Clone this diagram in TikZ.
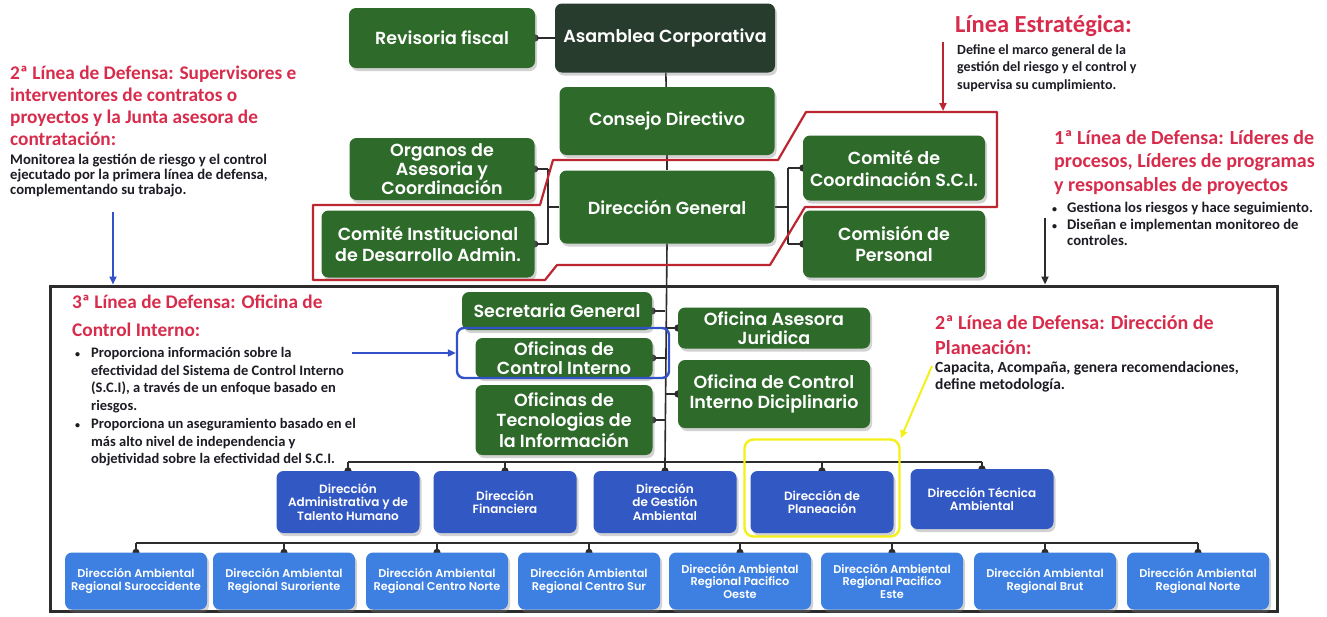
\documentclass[tikz,border=0pt]{standalone}
\usepackage{fontspec}
\setmainfont{Carlito}
\newfontfamily\cajafont{Poppins}[BoldFont={Poppins SemiBold}]
\usetikzlibrary{arrows.meta}
\usetikzlibrary{shadows}

\definecolor{verdecaja}{RGB}{46,106,42}
\definecolor{verdeoscuro}{RGB}{40,60,46}
\definecolor{azuldir}{RGB}{50,88,196}
\definecolor{azulreg}{RGB}{62,128,226}
\definecolor{rojotit}{RGB}{216,44,76}
\definecolor{rojomarco}{RGB}{188,38,48}
\definecolor{azulflecha}{RGB}{50,82,200}
\definecolor{amarillo}{RGB}{244,240,24}
\definecolor{linea}{RGB}{44,44,44}
\definecolor{textonota}{RGB}{28,28,36}

\newcommand{\vineta}{{\fontsize{10}{10}\selectfont •}}

\pgfdeclarelayer{background}
\pgfsetlayers{background,main}

\begin{document}
\begin{tikzpicture}[x=1pt, y=-1pt]
   \tikzset{caja/.style={rectangle, rounded corners=7pt, fill=verdecaja, text=white, align=center,
      inner sep=0pt, font=\cajafont\bfseries\fontsize{17.5}{20.5}\selectfont,
      drop shadow={opacity=.35, shadow xshift=2pt, shadow yshift=-3pt}}}
   \tikzset{dir/.style={caja, fill=azuldir, minimum width=143pt, minimum height=62pt,
      font=\cajafont\bfseries\fontsize{12}{13.5}\selectfont}}
   \tikzset{reg/.style={caja, fill=azulreg, minimum width=142pt, minimum height=57pt,
      font=\cajafont\bfseries\fontsize{11.3}{12.5}\selectfont}}
   \tikzset{titulo/.style={anchor=north west, inner sep=0pt, align=left, text=rojotit,
      font=\bfseries\fontsize{19.3}{22}\selectfont}}
   \tikzset{nota/.style={anchor=north west, inner sep=0pt, align=left, text=textonota,
      font=\bfseries\fontsize{14.7}{15}\selectfont}}
   \tikzset{conn/.style={draw=linea, line width=1.6pt}}
   \tikzset{bola/.style={conn, -{Circle[length=7pt]}, shorten >=-3.5pt}}
   \tikzset{flecha/.style={line width=2pt, -{Triangle[length=8pt,width=7pt]}}}

   \begin{pgfonlayer}{background}
      \fill[white] (0,0) rectangle (1327,616);
   \end{pgfonlayer}
   \useasboundingbox (0,0) rectangle (1327,616);

   \node[draw=linea, line width=3pt, minimum width=1227pt, minimum height=325pt, inner sep=0pt] (marco) at (663.5,448.5) {};

   \node[caja, minimum width=186pt, minimum height=60pt] (rev) at (442,38) {Revisoria fiscal};
   \node[caja, fill=verdeoscuro, minimum width=220pt, minimum height=69pt] (asam) at (665,38) {Asamblea Corporativa};
   \node[caja, minimum width=215pt, minimum height=68pt] (cons) at (667,121) {Consejo Directivo};
   \node[caja, minimum width=185pt, minimum height=62pt, font=\cajafont\bfseries\fontsize{17.5}{19}\selectfont] (org) at (442,169) {Organos de\\Asesoria y\\Coordinación};
   \node[caja, minimum width=215pt, minimum height=73pt] (dg) at (667,207) {Dirección General};
   \node[caja, minimum width=213pt, minimum height=67pt] (inst) at (428,244) {Comité Institucional\\de Desarrollo Admin.};
   \node[caja, minimum width=182pt, minimum height=65pt, font=\cajafont\bfseries\fontsize{17.5}{22}\selectfont] (coord) at (894,168) {Comité de\\Coordinación S.C.I.};
   \node[caja, minimum width=182pt, minimum height=67pt] (pers) at (894,244) {Comisión de\\Personal};

   \node[caja, minimum width=190pt, minimum height=38pt] (sec) at (557,311) {Secretaria General};
   \node[caja, minimum width=177pt, minimum height=40pt, font=\cajafont\bfseries\fontsize{17.5}{19}\selectfont] (ci) at (564,358) {Oficinas de\\Control Interno};
   \node[caja, minimum width=177pt, minimum height=70pt] (tic) at (564,420) {Oficinas de\\Tecnologias de\\la Información};
   \node[caja, minimum width=192pt, minimum height=41pt, font=\cajafont\bfseries\fontsize{17.5}{19}\selectfont] (jur) at (774,328) {Oficina Asesora\\Juridica};
   \node[caja, minimum width=192pt, minimum height=68pt] (dis) at (774,394) {Oficina de Control\\Interno Diciplinario};

   \node[dir] (d1) at (348,502) {Dirección\\Administrativa y de\\Talento Humano};
   \node[dir] (d2) at (505,502) {Dirección\\Financiera};
   \node[dir] (d3) at (665,502) {Dirección\\de Gestión\\Ambiental};
   \node[dir] (d4) at (822,502) {Dirección de\\Planeación};
   \node[dir, minimum height=60pt] (d5) at (982,499) {Dirección Técnica\\Ambiental};

   \node[reg] (r1) at (136,581) {Dirección Ambiental\\Regional Suroccidente};
   \node[reg] (r2) at (284,581) {Dirección Ambiental\\Regional Suroriente};
   \node[reg] (r3) at (437,581) {Dirección Ambiental\\Regional Centro Norte};
   \node[reg] (r4) at (589,581) {Dirección Ambiental\\Regional Centro Sur};
   \node[reg] (r5) at (740,581) {Dirección Ambiental\\Regional Pacifico\\Oeste};
   \node[reg] (r6) at (892,581) {Dirección Ambiental\\Regional Pacifico\\Este};
   \node[reg] (r7) at (1045,581) {Dirección Ambiental\\Regional Brut};
   \node[reg] (r8) at (1198,581) {Dirección Ambiental\\Regional Norte};

   \node[titulo] (sup) at (10,66) {2ª Línea de Defensa: Supervisores e\\interventores de contratos o\\proyectos y la Junta asesora de\\contratación:};
   \node[nota] (supn) at (10,154) {Monitorea la gestión de riesgo y el control\\ejecutado por la primera línea de defensa,\\complementando su trabajo.};
   \node[titulo, font=\bfseries\fontsize{24.5}{26}\selectfont] (est) at (955,15) {Línea Estratégica:};
   \node[nota, font=\bfseries\fontsize{14}{17.5}\selectfont] (estn) at (957,44) {Define el marco general de la\\gestión del riesgo y el control y\\supervisa su cumplimiento.};
   \node[titulo, font=\bfseries\fontsize{20}{23.5}\selectfont] (pri) at (1054,130) {1ª Línea de Defensa: Líderes de\\procesos, Líderes de programas\\y responsables de proyectos};
   \node[nota, font=\bfseries\fontsize{14.7}{16.5}\selectfont] (prin) at (1052,201)
      {\begin{tabular}{@{}l@{\hspace{10pt}}l@{}}
       \vineta&Gestiona los riesgos y hace seguimiento.\\
       \vineta&Diseñan e implementan monitoreo de\\
        &controles.
       \end{tabular}};
   \node[titulo, font=\bfseries\fontsize{19.3}{28}\selectfont] (ter) at (72,295) {3ª Línea de Defensa: Oficina de\\Control Interno:};
   \node[nota, font=\bfseries\fontsize{14.5}{17.7}\selectfont] (tern) at (75,345)
      {\begin{tabular}{@{}l@{\hspace{11pt}}l@{}}
       \vineta&Proporciona información sobre la\\
        &efectividad del Sistema de Control Interno\\
        &(S.C.I), a través de un enfoque basado en\\
        &riesgos.\\
       \vineta&Proporciona un aseguramiento basado en el\\
        &más alto nivel de independencia y\\
        &objetividad sobre la efectividad del S.C.I.
       \end{tabular}};
   \node[titulo, font=\bfseries\fontsize{20}{25}\selectfont] (pla) at (935,315) {2ª Línea de Defensa: Dirección de\\Planeación:};
   \node[nota, font=\bfseries\fontsize{15.5}{17}\selectfont] (plan) at (935,361) {Capacita, Acompaña, genera recomendaciones,\\define metodología.};

   \node[draw=azulflecha, line width=2.4pt, rounded corners=7pt, minimum width=212pt, minimum height=50pt, inner sep=0pt] (cihl) at (563,353) {};
   \node[draw=amarillo, line width=2.4pt, rounded corners=9pt, minimum width=155pt, minimum height=97pt, inner sep=0pt] (plhl) at (822,488) {};

   \draw[rojomarco, line width=2.2pt, line join=round] (806,112) -- (997,112) -- (997,207) -- (805,207) -- (770,265) -- (557,265)
      -- (545,280) -- (313,280) -- (313,205) -- (540,205) -- (553,160) -- (778,160) -- cycle;

   \coordinate (estA) at (943,42);
   \coordinate (estB) at (943,111);
   \coordinate (supA) at (113,212);
   \coordinate (priA) at (1045,218);
   \coordinate (terA) at (352,353);
   \coordinate (plaA) at (932,366);
   \draw[flecha, rojomarco] (estA) -- (estB);
   \draw[flecha, azulflecha] (supA) -- (supA |- marco.north);
   \draw[flecha, linea] (priA) -- (priA |- marco.north);
   \draw[flecha, azulflecha] (terA) -- (cihl.west);
   \draw[flecha, amarillo] (plaA) -- (plhl.north east);

   \begin{pgfonlayer}{background}
      \coordinate (busD) at (665,462);
      \coordinate (busR) at (665,543);
      \coordinate (bl) at (548,207);
      \coordinate (br) at (788,207);
      \draw[conn, {Circle[length=7pt]}-, shorten <=-3.5pt] (rev) -- (asam);
      \draw[conn] (asam) -- (cons);
      \draw[conn] (cons) -- (dg);
      \draw[conn] (dg.south) -- (busD);
      \draw[conn] (dg) -- (bl);
      \draw[conn] (bl |- org.east) -- (bl |- inst.east);
      \draw[bola] (bl |- org.east) -- (org.east);
      \draw[bola] (bl |- inst.east) -- (inst.east);
      \draw[conn] (dg) -- (br);
      \draw[conn] (br |- coord.west) -- (br |- pers.west);
      \draw[bola] (br |- coord.west) -- (coord.west);
      \draw[bola] (br |- pers.west) -- (pers.west);
      \foreach \b in {sec,ci,tic}
         \draw[bola] (\b.east -| busD) -- (\b.east);
      \foreach \b in {jur,dis}
         \draw[bola] (\b.west -| busD) -- (\b.west);
      \draw[conn] (d1.north |- busD) -- (d5.north |- busD);
      \foreach \d in {d1,d2,d3,d4,d5}
         \draw[bola] (\d.north |- busD) -- (\d.north);
      \draw[conn] (r1.north |- busR) -- (r8.north |- busR);
      \foreach \r in {r1,r2,r3,r4,r5,r6,r7,r8}
         \draw[bola] (\r.north |- busR) -- (\r.north);
   \end{pgfonlayer}
\end{tikzpicture}
\end{document}
